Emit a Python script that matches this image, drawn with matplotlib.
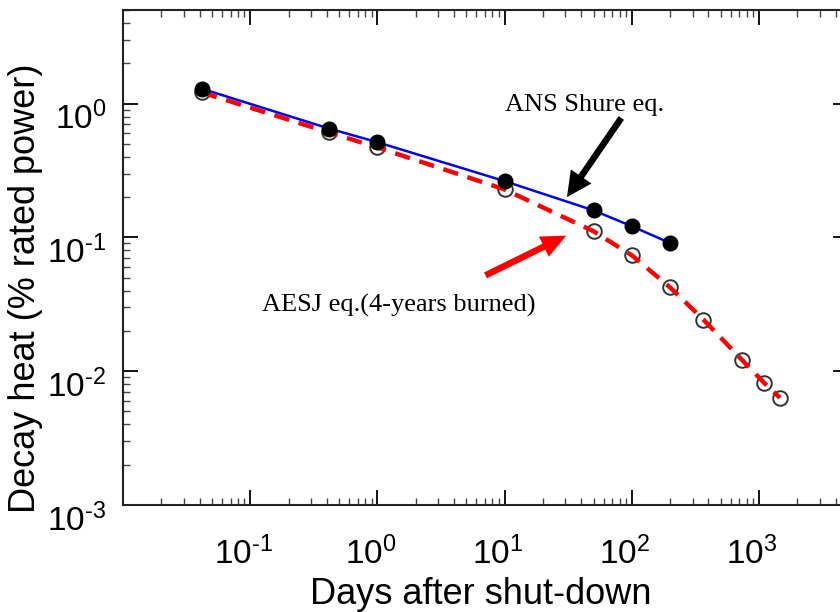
import numpy as np
import matplotlib
matplotlib.use('Agg')
import matplotlib.pyplot as plt
import matplotlib.transforms as mtransforms
from matplotlib.ticker import FuncFormatter

plt.rcParams['font.family'] = ['Liberation Sans', 'DejaVu Sans']
plt.rcParams['mathtext.fontset'] = 'custom'
plt.rcParams['mathtext.rm'] = 'Liberation Sans'
plt.rcParams['mathtext.it'] = 'Liberation Sans'
plt.rcParams['mathtext.bf'] = 'Liberation Sans'
plt.rcParams['mathtext.sf'] = 'Liberation Sans'

# days after shut-down
ans_days = [1 / 24, 10 / 24, 1, 10, 50, 100, 200]
ans_heat = [1.29, 0.65, 0.514, 0.263, 0.159, 0.121, 0.0906]

aesj_days = [1 / 24, 10 / 24, 1, 10, 50, 100, 200, 365, 730, 1095, 1460]
aesj_heat = [1.21, 0.608, 0.47, 0.228, 0.111, 0.0734, 0.0422, 0.0243, 0.0122, 0.00818, 0.00632]

xticks = [1e-1, 1e0, 1e1, 1e2, 1e3]
yticks = [1e-3, 1e-2, 1e-1, 1e0]


def pow_label(v, pos):
    e = int(round(np.log10(v)))
    if e < 0:
        return r'$\mathregular{10^{\text{-}%d}}$' % (-e)
    return r'$\mathregular{10^{%d}}$' % e


fig = plt.figure(figsize=(8.4, 6.12), dpi=100)
ax = fig.add_axes([123 / 840, 1 - 505 / 612, 725 / 840, 495 / 612])

ax.plot(aesj_days, aesj_heat, color='#ff0000', lw=3.2, dashes=(3.5, 2.2), zorder=3)
ax.plot(aesj_days, aesj_heat, 'o', ms=10.5, mfc='none', mec='#333333', mew=1.4, zorder=2)
ax.plot(ans_days, ans_heat, color='#0000ff', lw=1.8, zorder=4)
ax.plot(ans_days, ans_heat, 'o', ms=10.5, mfc='black', mec='black', zorder=5)

ax.set_xscale('log')
ax.set_yscale('log')
ax.set_xlim(0.01, 5000)
ax.set_ylim(1e-3, 5)
ax.set_xticks(xticks)
ax.set_yticks(yticks)
ax.xaxis.set_major_formatter(FuncFormatter(pow_label))
ax.yaxis.set_major_formatter(FuncFormatter(pow_label))

ax.tick_params(which='both', direction='in', top=True, right=True, labelsize=24)
ax.tick_params(which='major', length=11, width=1.3)
ax.tick_params(which='minor', length=5, width=1.0, color='#444444')
ax.tick_params(axis='x', pad=23)
ax.tick_params(axis='y', pad=12)
for s in ax.spines.values():
    s.set_linewidth(1.5)
    s.set_color('#222222')

# nudge tick labels like the original figure
xoff = mtransforms.ScaledTranslation(-7 / 100, 0, fig.dpi_scale_trans)
yoff = mtransforms.ScaledTranslation(0, -12 / 100, fig.dpi_scale_trans)
for lab in ax.get_xticklabels():
    lab.set_transform(lab.get_transform() + xoff)
for lab in ax.get_yticklabels():
    lab.set_transform(lab.get_transform() + yoff)

ax.set_xlabel('Days after shut-down', fontsize=26, va='baseline')
ax.xaxis.set_label_coords(0.494, -(604 - 505) / 495)
ax.set_ylabel('Decay heat (% rated power)', fontsize=26, va='center')
ax.yaxis.set_label_coords(-97 / 725, 1 - (288 - 10) / 495)

# annotations
ax.text(42.4, 0.876, 'ANS Shure eq.', family='Liberation Serif', fontsize=19,
        ha='center', va='baseline')
ax.annotate('', xy=(30.9, 0.2), xytext=(82.6, 0.78),
            arrowprops=dict(arrowstyle='simple,head_length=0.5,head_width=0.5,tail_width=0.13',
                            mutation_scale=36, color='black', lw=0,
                            shrinkA=0, shrinkB=0))
ax.text(1.475, 0.028, 'AESJ eq.(4-years burned)', family='Liberation Serif', fontsize=19,
        ha='center', va='baseline')
ax.annotate('', xy=(30.5, 0.103), xytext=(7.07, 0.052),
            arrowprops=dict(arrowstyle='simple,head_length=0.5,head_width=0.45,tail_width=0.13',
                            mutation_scale=36, color='#ff0000', lw=0,
                            shrinkA=0, shrinkB=0))

fig.savefig('out.png', dpi=100)
